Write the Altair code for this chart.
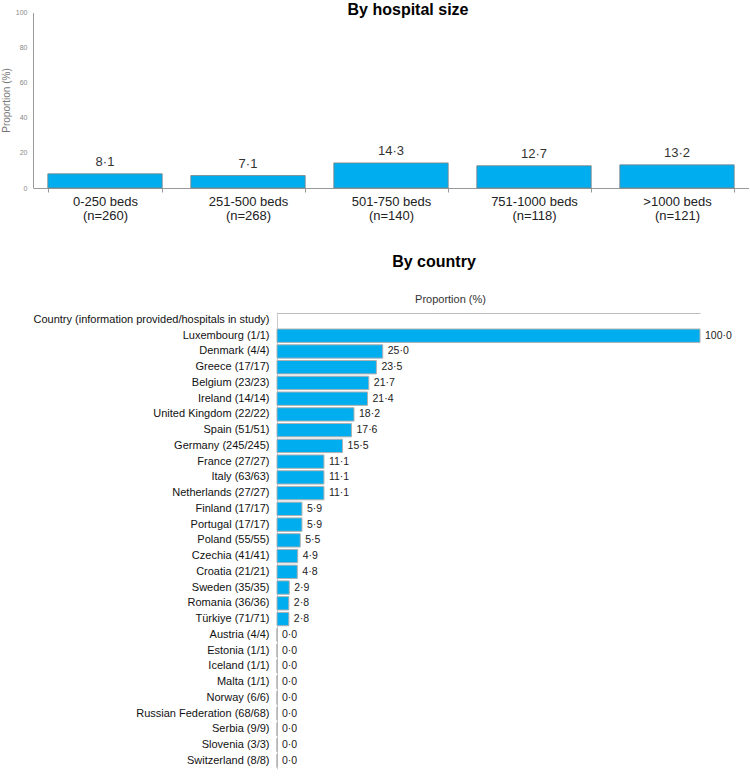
import altair as alt
import pandas as pd

FONT = "Liberation Sans"
BLUE = "#00AEEF"

# ---- data: by hospital size ----
size_cats = ["0-250 beds", "251-500 beds", "501-750 beds", "751-1000 beds", ">1000 beds"]
size_n = [260, 268, 140, 118, 121]
size_pct = [8.1, 7.1, 14.3, 12.7, 13.2]

# ---- data: by country ----
header_row = "Country (information provided/hospitals in study)"
countries = [
    "Luxembourg (1/1)", "Denmark (4/4)", "Greece (17/17)", "Belgium (23/23)",
    "Ireland (14/14)", "United Kingdom (22/22)", "Spain (51/51)", "Germany (245/245)",
    "France (27/27)", "Italy (63/63)", "Netherlands (27/27)", "Finland (17/17)",
    "Portugal (17/17)", "Poland (55/55)", "Czechia (41/41)", "Croatia (21/21)",
    "Sweden (35/35)", "Romania (36/36)", "Türkiye (71/71)", "Austria (4/4)",
    "Estonia (1/1)", "Iceland (1/1)", "Malta (1/1)", "Norway (6/6)",
    "Russian Federation (68/68)", "Serbia (9/9)", "Slovenia (3/3)", "Switzerland (8/8)",
]
country_pct = [
    100.0, 25.0, 23.5, 21.7, 21.4, 18.2, 17.6, 15.5, 11.1, 11.1, 11.1, 5.9, 5.9,
    5.5, 4.9, 4.8, 2.9, 2.8, 2.8, 0.0, 0.0, 0.0, 0.0, 0.0, 0.0, 0.0, 0.0, 0.0,
]

titles_top = ["By hospital size"]
titles_bottom = ["By country"]


def fmt(v):
    return f"{v:.1f}".replace(".", "·")


top_df = pd.DataFrame({
    "cat": [f"{c}|(n={n})" for c, n in zip(size_cats, size_n)],
    "pct": size_pct,
    "lab": [fmt(v) for v in size_pct],
})
bot_df = pd.DataFrame({
    "country": countries,
    "pct": country_pct,
    "lab": [fmt(v) for v in country_pct],
})

# ---- top chart ----
x_top = alt.X(
    "cat:N", sort=None,
    scale=alt.Scale(range=[33.5, 748.5], paddingInner=0.2, paddingOuter=0.1),
    axis=alt.Axis(
        orient="bottom", offset=-592, title=None, labelAngle=0,
        labelExpr="split(datum.label, '|')", labelFont=FONT, labelFontSize=13,
        labelColor="#222", labelLineHeight=14, labelPadding=3,
        tickBand="extent", tickSize=4, tickColor="#999", tickWidth=1,
        domainColor="#999", domainWidth=1, grid=False,
    ),
)
y_top = alt.Y(
    "pct:Q",
    scale=alt.Scale(domain=[0, 100], range=[188, 12.7], nice=False),
    axis=alt.Axis(
        orient="left", offset=-33, values=[0, 20, 40, 60, 80, 100], ticks=False,
        labelFont=FONT, labelFontSize=7, labelColor="#888", labelPadding=6,
        domainColor="#999", domainWidth=1, grid=False,
        title="Proportion (%)", titleFont=FONT, titleFontSize=10,
        titleFontWeight="normal", titleColor="#777", titleX=-27, titleY=100,
        titleAlign="center", titleBaseline="middle", titleAngle=270,
    ),
)
top_bars = alt.Chart(top_df).mark_bar(
    color=BLUE, stroke="#808080", strokeWidth=0.8
).encode(x=x_top, y=y_top)
top_text = alt.Chart(top_df).mark_text(
    baseline="bottom", dy=-5, fontSize=13, color="#333", font=FONT
).encode(x=x_top, y=y_top, text="lab:N")
top = alt.layer(top_bars, top_text)

# ---- bottom chart ----
y_bot = alt.Y(
    "country:N", sort=None,
    scale=alt.Scale(domain=[header_row] + countries, range=[312.1, 768.6],
                    paddingInner=0.15, paddingOuter=0.075),
    axis=alt.Axis(
        orient="left", offset=-277, title=None, ticks=False,
        labelFont=FONT, labelFontSize=11, labelColor="#111", labelPadding=8,
        labelLimit=400, domainColor="#ccc", domainWidth=1, grid=False,
    ),
)
x_bot = alt.X(
    "pct:Q",
    scale=alt.Scale(domain=[0, 100], range=[277, 700], nice=False),
    axis=alt.Axis(
        orient="top", offset=-313, labels=False, ticks=False, grid=False,
        domainColor="#bbb", domainWidth=1,
        title="Proportion (%)", titleFont=FONT, titleFontSize=11,
        titleFontWeight="normal", titleColor="#333", titleX=450, titleY=-14,
        titleAlign="center", titleBaseline="middle",
    ),
)
bot_bars = alt.Chart(bot_df).mark_bar(
    color=BLUE, stroke="#b0b0b0", strokeWidth=1
).encode(x=x_bot, y=y_bot)
bot_text = alt.Chart(bot_df).mark_text(
    align="left", baseline="middle", dx=5, fontSize=10.5, color="#222", font=FONT
).encode(x=x_bot, y=y_bot, text="lab:N")
bot = alt.layer(bot_bars, bot_text)

# ---- section titles ----
t1 = alt.Chart(pd.DataFrame({"t": titles_top})).mark_text(
    font=FONT, fontSize=16, fontWeight="bold", color="#000",
    align="center", baseline="middle",
).encode(text="t:N", x=alt.value(408), y=alt.value(10))
t2 = alt.Chart(pd.DataFrame({"t": titles_bottom})).mark_text(
    font=FONT, fontSize=16, fontWeight="bold", color="#000",
    align="center", baseline="middle",
).encode(text="t:N", x=alt.value(434), y=alt.value(262))

chart = alt.layer(top, bot, t1, t2).resolve_scale(
    x="independent", y="independent"
).resolve_axis(
    x="independent", y="independent"
).properties(
    width=750, height=780, padding=0,
    autosize=alt.AutoSizeParams(type="none"),
    view=alt.ViewBackground(stroke="transparent"),
).configure(background="white")

chart.save("out.html", embed_options={"renderer": "svg", "actions": False})
